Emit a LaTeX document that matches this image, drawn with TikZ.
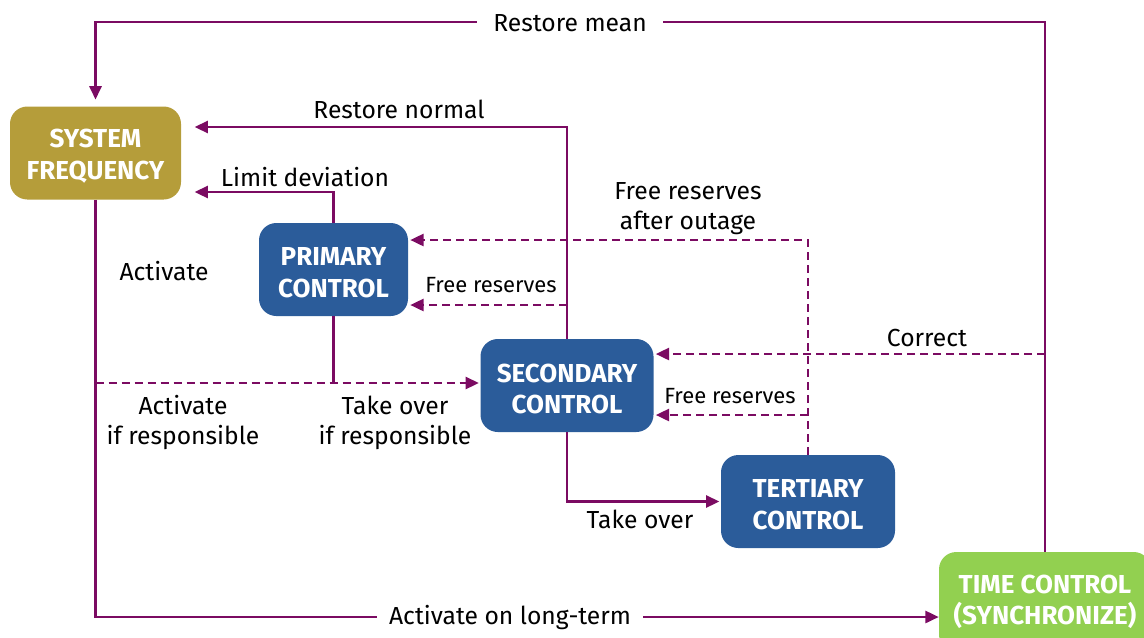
\documentclass[tikz,border=0pt]{standalone}
\usepackage{fontspec}
\setmainfont{Fira Sans}
\usetikzlibrary{arrows.meta}
\definecolor{lineC}{HTML}{7B0B62}
\definecolor{olive}{HTML}{B59D3A}
\definecolor{blueC}{HTML}{2B5C9A}
\definecolor{greenC}{HTML}{92D050}
\tikzset{
  box/.style={rectangle, rounded corners=13pt, minimum height=69.75pt, inner sep=0pt},
  boxtxt/.style={text=white, align=center, inner sep=0pt,
    font=\fontsize{19.5}{23.5}\selectfont\bfseries},
  lbl/.style={text=black, align=center, font=\fontsize{18.5}{22.5}\selectfont, inner sep=0pt},
  slbl/.style={text=black, align=center, font=\fontsize{16.5}{20}\selectfont, inner sep=0pt},
  conn/.style={draw=lineC, line width=1.9pt},
  arr/.style={-{Triangle[length=10pt,width=9pt]}},
  dsh/.style={dash pattern=on 6pt off 3.75pt},
}
\begin{document}
\begin{tikzpicture}[x=0.75pt,y=-0.75pt]
\clip (0,0) rectangle (1144,637);
\useasboundingbox (0,0) rectangle (1144,637);
% boxes
\node[box, fill=olive, minimum width=128.25pt] (sf) at (95.5,153) {};
\node[box, fill=blueC, minimum width=111.75pt] (pri) at (333.5,269.5) {};
\node[box, fill=blueC, minimum width=129.75pt] (sec) at (567,385.5) {};
\node[box, fill=blueC, minimum width=130.5pt] (ter) at (808,501.5) {};
\node[box, fill=greenC, minimum width=159pt, minimum height=75pt] (tc) at (1045,602) {};
\node[boxtxt] (sft) at ([yshift=-2.5pt]sf.center) {SYSTEM\\FREQUENCY};
\node[boxtxt] (prit) at ([yshift=-2.5pt]pri.center) {PRIMARY\\CONTROL};
\node[boxtxt] (sect) at ([yshift=-2.5pt]sec.center) {SECONDARY\\CONTROL};
\node[boxtxt] (tert) at ([yshift=-2.5pt]ter.center) {TERTIARY\\CONTROL};
\node[boxtxt] (tct) at ([yshift=0pt]tc.center) {TIME CONTROL\\(SYNCHRONIZE)};
% solid connectors
\draw[conn,arr,shorten >=5pt] (tc.north) |- (sf.north |- 0,22) -- (sf.north);
\draw[conn,arr,shorten >=10pt] (sec.north) |- (sf.east |- 0,127);
\draw[conn,arr,shorten >=10pt] (pri.north) |- (sf.east |- 0,192);
\draw[conn,arr] (sf.south) |- (tc.west |- 0,617);
\draw[conn] (pri.south) -- (pri.south |- 0,383);
\draw[conn,arr,shorten >=1pt] (sec.south) |- (ter.west);
% dashed connectors
\draw[conn,dsh,arr,shorten >=1pt] (sf.south |- 0,383) -- (sec.west |- 0,383);
\draw[conn,dsh,arr,shorten >=1.5pt] (ter.north) |- (pri.east |- 0,240);
\draw[conn,dsh,arr,shorten >=1.5pt] (sec.north |- 0,305) -- (pri.east |- 0,305);
\draw[conn,dsh,arr,shorten >=1.5pt] (tc.north |- 0,354) -- (sec.east |- 0,354);
\draw[conn,dsh,arr,shorten >=1.5pt] (ter.north |- 0,415) -- (sec.east |- 0,415);
% labels
\node[lbl, fill=white, inner xsep=12pt, inner ysep=2pt] (lrm) at (570,23) {Restore mean};
\node[lbl] (lrn) at (399,109) {Restore normal};
\node[lbl] (lld) at (305,177) {Limit deviation};
\node[lbl] (lact) at (164,271) {Activate};
\node[lbl] (lfo) at (688,209) {Free reserves\\after outage};
\node[slbl] (lfr1) at (491,285) {Free reserves};
\node[lbl] (lcor) at (927,338) {Correct};
\node[slbl] (lfr2) at (730,396) {Free reserves};
\node[lbl] (lair) at (183,422.5) {Activate\\if responsible};
\node[lbl] (ltir) at (395,422.5) {Take over\\if responsible};
\node[lbl] (lto) at (640,519) {Take over};
\node[lbl, fill=white, inner xsep=9pt, inner ysep=2pt] (lalt) at (510,617) {Activate on long-term};
\end{tikzpicture}
\end{document}
